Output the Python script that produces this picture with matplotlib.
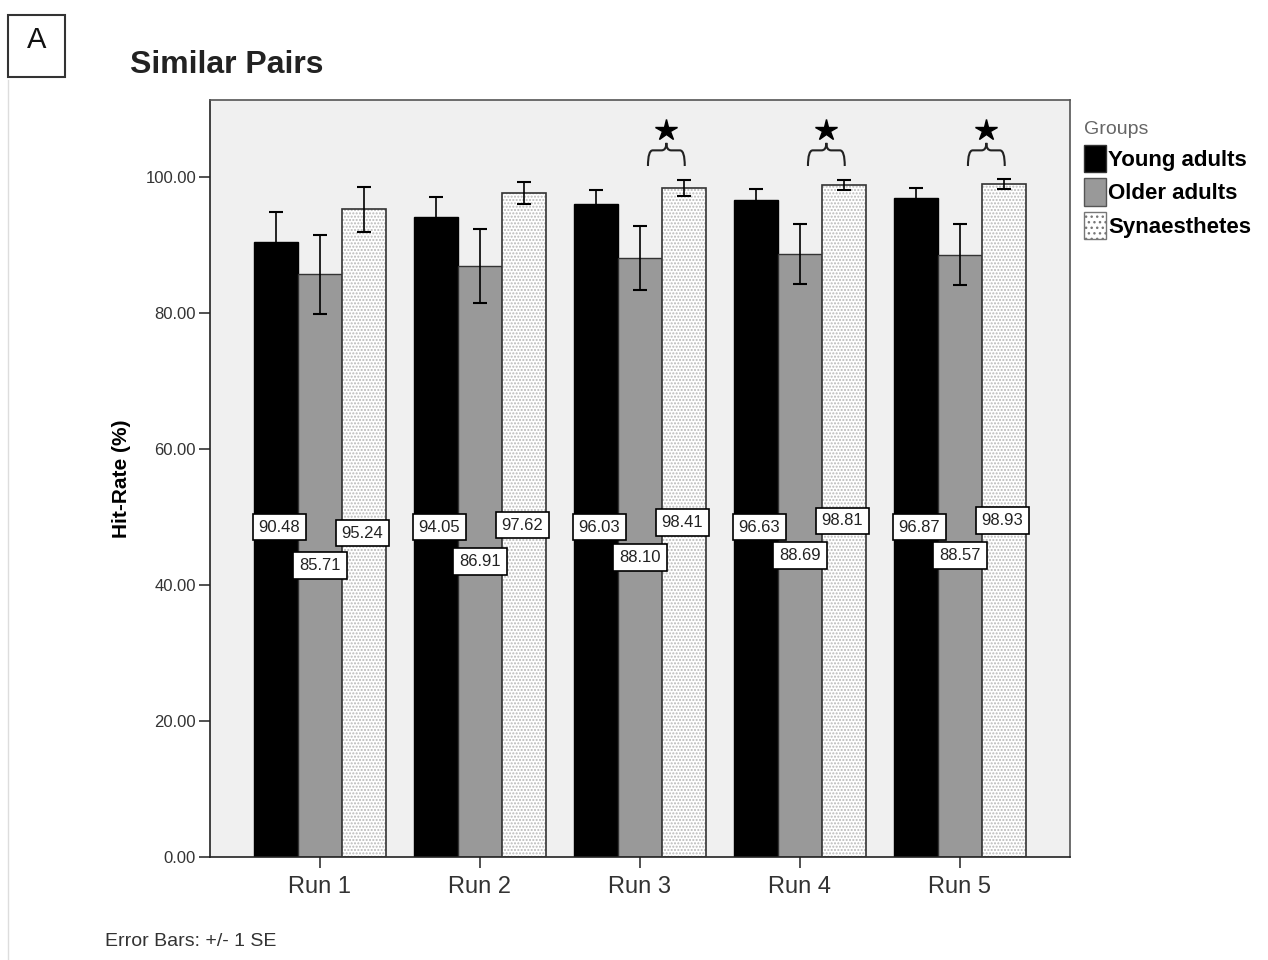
# Similar Pairs - hit rate per run and group

import numpy as np
import matplotlib
matplotlib.use("Agg")
import matplotlib.pyplot as plt
from matplotlib.path import Path
from matplotlib.patches import PathPatch, Rectangle, Patch

plt.rcParams['font.family'] = ['Liberation Sans', 'DejaVu Sans']

runs = ["Run 1", "Run 2", "Run 3", "Run 4", "Run 5"]
groups = ["Young adults", "Older adults", "Synaesthetes"]
young = [90.48, 94.05, 96.03, 96.63, 96.87]
older = [85.71, 86.91, 88.10, 88.69, 88.57]
synaes = [95.24, 97.62, 98.41, 98.81, 98.93]
young_se = [4.4, 3.0, 2.0, 1.6, 1.5]
older_se = [5.8, 5.4, 4.7, 4.4, 4.5]
synaes_se = [3.3, 1.6, 1.2, 0.8, 0.7]
signif_runs = [2, 3, 4]

fig = plt.figure(figsize=(12.68, 9.6), dpi=100)
ax = fig.add_axes([0.1656, 0.1073, 0.6782, 0.7885])
ax.set_facecolor('#f0f0f0')

x = np.arange(len(runs))
w = 0.275

# bars
plt.rcParams['hatch.color'] = '#b8b8b8'
plt.rcParams['hatch.linewidth'] = 1.0
ax.bar(x - w, young, w, color='black', edgecolor='black', linewidth=1, zorder=2)
ax.bar(x, older, w, color='#999999', edgecolor='#333333', linewidth=1, zorder=2)
ax.bar(x + w, synaes, w, color='white', edgecolor='#b8b8b8', hatch='.....', linewidth=0, zorder=2)
ax.bar(x + w, synaes, w, color='none', edgecolor='#333333', linewidth=1.2, zorder=3)

# error bars
for off, vals, se in [(-w, young, young_se), (0, older, older_se), (w, synaes, synaes_se)]:
    ax.errorbar(x + off, vals, yerr=se, fmt='none', ecolor='black',
                elinewidth=1.2, capsize=5, capthick=1.5, zorder=4)

# value labels
box = dict(boxstyle='square,pad=0.35', fc='white', ec='black', lw=1.2)
lab = dict(ha='center', va='center', fontsize=12, color='#222222', bbox=box, zorder=5)
for i in range(len(runs)):
    ax.text(x[i] - w + 0.02, max(young[i] / 2, 48.5), '%.2f' % young[i], **lab)
    ax.text(x[i], older[i] / 2, '%.2f' % older[i], **lab)
    ax.text(x[i] + w - 0.01, synaes[i] / 2, '%.2f' % synaes[i], **lab)

# significance braces and stars
for i in signif_runs:
    x0, x1 = x[i] + 0.05, x[i] + 0.28
    xc = (x0 + x1) / 2
    d = 0.03
    y0, y1, y2 = 101.6, 103.9, 105.0
    path = Path([(x0, y0), (x0, y1), (x0 + d, y1), (xc - d, y1), (xc, y1), (xc, y2),
                 (xc, y1), (xc + d, y1), (x1 - d, y1), (x1, y1), (x1, y0)],
                [Path.MOVETO, Path.CURVE3, Path.CURVE3, Path.LINETO, Path.CURVE3, Path.CURVE3,
                 Path.CURVE3, Path.CURVE3, Path.LINETO, Path.CURVE3, Path.CURVE3])
    ax.add_patch(PathPatch(path, fc='none', ec='#222222', lw=1.5, zorder=4))
    ax.plot(xc, 106.9, marker='*', color='black', markersize=16, zorder=5)

ax.set_xlim(-0.6875, 4.6875)
ax.set_ylim(0, 111.3)
ax.set_xticks(x)
ax.set_xticklabels(runs, fontsize=17, color='#333333')
ax.set_yticks(np.arange(0, 101, 20))
ax.set_yticklabels(['%.2f' % v for v in np.arange(0, 101, 20)], fontsize=12, color='#333333')
ax.tick_params(axis='both', direction='out', length=8, width=1.2, color='#333333')
ax.tick_params(axis='x', pad=6)
ax.tick_params(axis='y', pad=2)
for s in ax.spines.values():
    s.set_color('#555555')
    s.set_linewidth(1.2)
ax.spines['left'].set_color('#222222')
ax.spines['bottom'].set_color('#222222')

ax.set_ylabel('Hit-Rate (%)', fontsize=15, fontweight='bold', labelpad=10)

# legend
handles = [Patch(fc='black', ec='#333333'),
           Patch(fc='#999999', ec='#555555'),
           Patch(fc='white', ec='#777777', hatch='...')]
leg = fig.legend(handles, groups, loc='upper left', bbox_to_anchor=(1064 / 1268, 1 - 101 / 960),
                 frameon=False, title='Groups', alignment='left', handlelength=1.0, handleheight=1.5,
                 handletextpad=0.1, labelspacing=0.3, prop={'size': 16, 'weight': 'bold'})
leg.get_title().set_fontsize(14)
leg.get_title().set_color('#666666')

# title, panel letter, footnote
fig.text(130 / 1268, 1 - 65 / 960, 'Similar Pairs', fontsize=23, fontweight='bold',
         color='#222222', va='center')
fig.patches.append(Rectangle((8 / 1268, 1 - 77 / 960), 57 / 1268, 62 / 960, transform=fig.transFigure,
                             fc='white', ec='#333333', lw=1.5))
fig.text(37 / 1268, 1 - 40 / 960, 'A', fontsize=21, ha='center', va='center', color='#111111')
fig.add_artist(plt.Line2D([8 / 1268, 8 / 1268], [0, 1 - 80 / 960], transform=fig.transFigure,
                          color='#dddddd', lw=1))
fig.text(105 / 1268, 1 - 942 / 960, 'Error Bars: +/- 1 SE', fontsize=14, color='#333333', va='center')

fig.savefig('out.png', dpi=100)
